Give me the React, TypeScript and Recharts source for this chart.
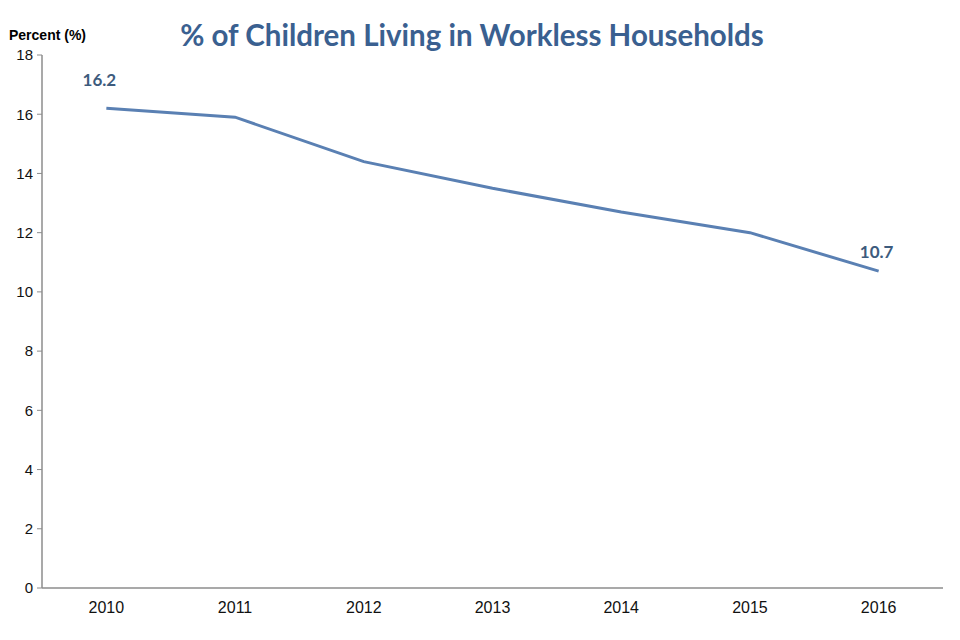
import React from 'react'
import { LineChart, Line, XAxis, YAxis, LabelList } from 'recharts'

if (typeof document !== 'undefined') document.body.style.margin = '0'

const years = [2010, 2011, 2012, 2013, 2014, 2015, 2016]
const percents = [16.2, 15.9, 14.4, 13.5, 12.7, 12.0, 10.7]
const yTicks = [0, 2, 4, 6, 8, 10, 12, 14, 16, 18]
const boundaryTicks = [2009.5, 2010.5, 2011.5, 2012.5, 2013.5, 2014.5, 2015.5, 2016.5]

const data = years.map((year, i) => ({ year, value: percents[i] }))

const axisColor = '#8c8c8c'
const xTickFont = { fontFamily: 'Liberation Sans, Arial, sans-serif', fontSize: 16, fill: '#111' }
const yTickFont = { fontFamily: 'Liberation Sans, Arial, sans-serif', fontSize: 15, fill: '#111' }

const EndLabel = (props: any) => {
  const { x, y, value, index } = props
  if (index !== 0 && index !== percents.length - 1) return null
  const dx = index === 0 ? -7 : -2
  const dy = index === 0 ? -29 : -20
  return (
    <text
      x={x + dx}
      y={y + dy}
      textAnchor='middle'
      dominantBaseline='central'
      fontFamily='Lato, sans-serif'
      fontWeight={700}
      fontSize={17}
      fill='#3d5b7d'
    >
      {Number(value).toFixed(1)}
    </text>
  )
}

const App = () => {
  return (
    <div style={{ position: 'relative', width: 960, height: 640, background: '#fff' }}>
      <div
        style={{
          position: 'absolute',
          left: 0,
          width: 944,
          top: 15,
          textAlign: 'center',
          fontFamily: 'Lato, sans-serif',
          fontWeight: 700,
          fontSize: 29.5,
          lineHeight: '40px',
          color: '#3a6090',
        }}
      >
        % of Children Living in Workless Households
      </div>
      <div
        style={{
          position: 'absolute',
          left: 9,
          top: 27,
          fontFamily: 'Liberation Sans, Arial, sans-serif',
          fontWeight: 700,
          fontSize: 14,
          color: '#000',
        }}
      >
        Percent (%)
      </div>
      <LineChart
        width={960}
        height={640}
        data={data}
        margin={{ top: 55, right: 17, bottom: 21, left: 0 }}
      >
        {/* category boundary ticks + axis line, nearest the plot */}
        <XAxis
          xAxisId={0}
          dataKey='year'
          type='number'
          domain={[2009.5, 2016.5]}
          ticks={boundaryTicks}
          tick={false}
          tickLine={{ stroke: axisColor }}
          tickSize={5}
          axisLine={{ stroke: axisColor, strokeWidth: 1.5 }}
          height={1}
          interval={0}
        />
        {/* year labels centred in each category */}
        <XAxis
          xAxisId='labels'
          dataKey='year'
          type='number'
          domain={[2009.5, 2016.5]}
          ticks={years}
          tickLine={false}
          axisLine={false}
          tick={xTickFont}
          tickMargin={7}
          height={30}
          interval={0}
        />
        <YAxis
          domain={[0, 18]}
          ticks={yTicks}
          width={42}
          tick={yTickFont}
          tickLine={{ stroke: axisColor }}
          tickSize={5}
          tickMargin={4}
          axisLine={{ stroke: axisColor, strokeWidth: 1.5 }}
          interval={0}
        />
        <Line
          dataKey='value'
          stroke='#5a80b3'
          strokeWidth={3}
          dot={false}
          isAnimationActive={false}
        >
          <LabelList dataKey='value' content={EndLabel} />
        </Line>
      </LineChart>
    </div>
  )
}

export default App
